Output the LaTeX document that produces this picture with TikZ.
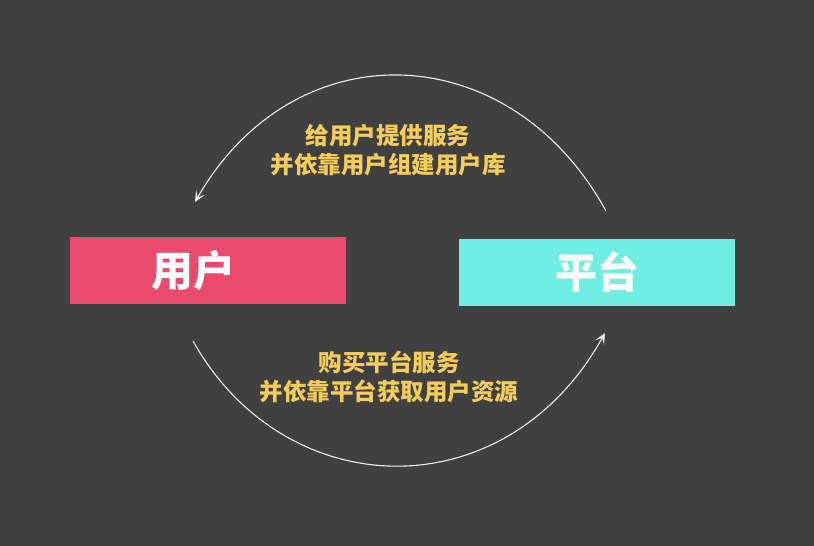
\documentclass[tikz,border=0pt]{standalone}
\usepackage{fontspec}
\newfontfamily\cjk{Noto Sans CJK SC}
\usetikzlibrary{arrows.meta}
\definecolor{bg}{HTML}{404040}
\definecolor{userc}{HTML}{E94B6E}
\definecolor{platc}{HTML}{70EEE1}
\definecolor{labc}{HTML}{F6CD5B}
\definecolor{linec}{HTML}{F0F0F0}
\tikzset{
  boxnode/.style={minimum width=276pt, minimum height=67pt, inner sep=0pt, text=white,
    font=\cjk\bfseries\fontsize{42}{48}\selectfont},
  labnode/.style={text=labc, align=center, inner sep=0pt,
    font=\cjk\bfseries\fontsize{23.5}{29}\selectfont},
  flow/.style={draw=linec, line width=1.1pt, -{Stealth[length=11pt,width=10pt,inset=5.5pt]}}
}
\begin{document}
\begin{tikzpicture}[x=1pt,y=-1pt]
\fill[bg] (0,0) rectangle (814,546);
\useasboundingbox (0,0) rectangle (814,546);
\node[boxnode, fill=userc] (user) at (208,270.5) {\hspace*{-30pt}用户};
\node[boxnode, fill=platc] (plat) at (597,272.5) {平台};
\coordinate (ts) at (606,211);
\coordinate (te) at (195,202);
\coordinate (bs) at (193,341);
\coordinate (be) at (605,333);
\draw[flow] (ts) .. controls (510,36) and (295,28) .. (te);
\draw[flow] (bs) .. controls (285,505) and (505,512) .. (be);
\node[labnode] (toplab) at (388,150) {给用户提供服务\\并依靠用户组建用户库};
\node[labnode] (botlab) at (389,377) {购买平台服务\\并依靠平台获取用户资源};
\end{tikzpicture}
\end{document}
